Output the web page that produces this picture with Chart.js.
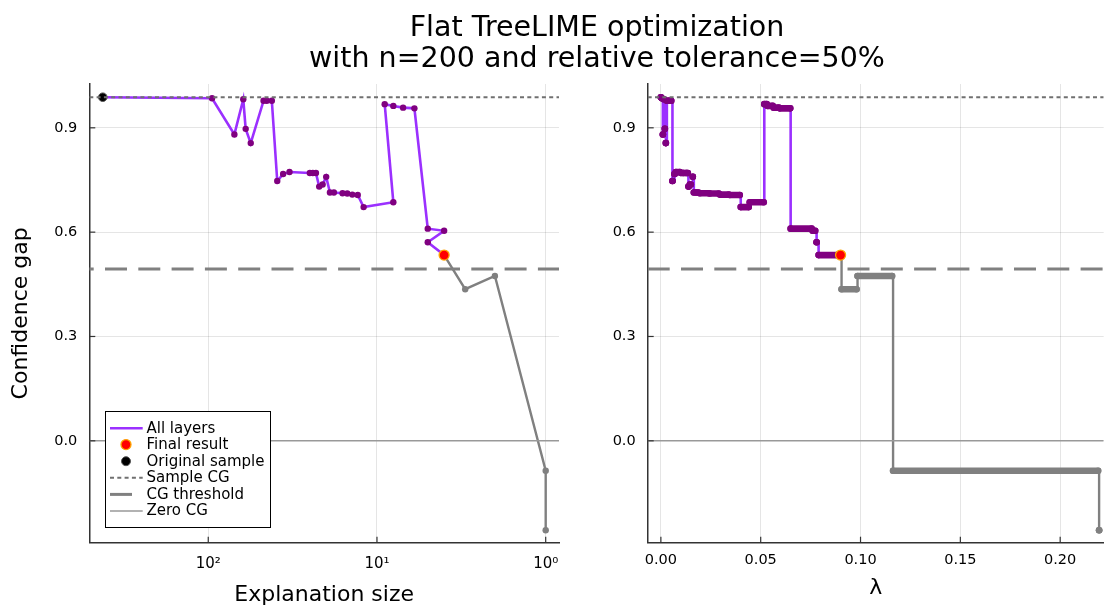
<!DOCTYPE html>
<html><head><meta charset="utf-8">
<script src="https://cdn.jsdelivr.net/npm/chart.js@4.4.1/dist/chart.umd.min.js"></script>
<style>
html,body{margin:0;padding:0;background:#fff;width:1110px;height:606px;overflow:hidden;font-family:"DejaVu Sans",sans-serif}
#title{position:absolute;left:97px;top:11px;width:1000px;text-align:center;font-size:28.5px;line-height:31px;color:#000;z-index:2}
#w1{position:absolute;left:0;top:0;width:580px;height:606px}
#w2{position:absolute;left:580px;top:0;width:530px;height:606px}
canvas{display:block}
</style></head><body>
<div id="w1"><canvas id="c1" width="580" height="606"></canvas></div>
<div id="w2"><canvas id="c2" width="530" height="606"></canvas></div>
<div id="title">Flat TreeLIME optimization<br>with n=200 and relative tolerance=50%</div>
<script>
// ---------- data ----------
const sizeAll = [422, 95, 70, 62, 60, 56, 47, 45, 42, 39, 36, 33, 25, 24, 23, 22, 21, 20, 19, 18, 16, 15, 14, 13, 12, 8, 9, 8, 7, 6, 5, 4, 5, 4];
const cgAll   = [0.988, 0.985, 0.881, 0.982, 0.897, 0.856, 0.978, 0.978, 0.978, 0.747, 0.767, 0.773, 0.770, 0.770, 0.770, 0.731, 0.737, 0.759, 0.714, 0.714, 0.712, 0.711, 0.708, 0.707, 0.672, 0.686, 0.968, 0.963, 0.958, 0.956, 0.610, 0.604, 0.571, 0.534];
const lamStartAll = [0, 0.0005, 0.001, 0.0015, 0.002, 0.0025, 0.003, 0.004, 0.005, 0.0058, 0.0068, 0.0075, 0.010, 0.0115, 0.013, 0.0138, 0.0145, 0.016, 0.0165, 0.018, 0.0195, 0.0245, 0.0295, 0.0345, 0.040, 0.0445, 0.0518, 0.0535, 0.0565, 0.0595, 0.065, 0.076, 0.078, 0.079];
const lamEndAll   = [0, 0.0005, 0.001, 0.0015, 0.002, 0.0025, 0.0035, 0.0045, 0.0052, 0.0058, 0.007, 0.0095, 0.011, 0.0125, 0.0135, 0.014, 0.015, 0.016, 0.0175, 0.0188, 0.024, 0.029, 0.034, 0.0395, 0.044, 0.0515, 0.053, 0.056, 0.059, 0.0648, 0.0755, 0.0773, 0.078, 0.090];

const sizeRest = [4, 3, 2, 1, 1];
const cgRest   = [0.534, 0.436, 0.474, -0.086, -0.257];
const lamStartRest = [0.090, 0.0905, 0.0985, 0.1163, 0.2195];
const lamEndRest   = [0.090, 0.098, 0.1158, 0.2190, 0.2195];

const finalSize = 4, finalLam = 0.090, finalCG = 0.534;
const origSize = 422, origCG = 0.988;

const sampleCG = 0.988;
const cgThreshold = 0.494;
const zeroCG = 0;

const yTicks = [0, 0.3, 0.6, 0.9];
const yTickLabels = ['0.0', '0.3', '0.6', '0.9'];
const xTicksLeft = [1, 10, 100];
const xTickLabelsLeft = ['10\u2070', '10\u00B9', '10\u00B2'];
const xTicksRight = [0, 0.05, 0.10, 0.15, 0.20];
const xTickLabelsRight = ['0.00', '0.05', '0.10', '0.15', '0.20'];

// ---------- styles ----------
const PURPLE_LINE = '#9b30ff', PURPLE_MK = '#800080', GRAY = '#808080';
Chart.defaults.font.family = '"DejaVu Sans", sans-serif';
Chart.defaults.color = '#000';

const pts = (xs, ys) => xs.map((x, i) => ({x, y: ys[i]}));
const stepPts = (s, e, ys) => { const o = []; ys.forEach((y, i) => { o.push({x: s[i], y}); o.push({x: e[i], y}); }); return o; };
const plateauPts = (s, e, ys) => { const o = []; ys.forEach((y, i) => { o.push({x: s[i], y}); o.push({x: e[i], y}); o.push({x: e[i], y: null}); }); return o; };

const refLines = (dashOffset) => ({
  id: 'refLines',
  afterDatasetsDraw(chart) {
    const {ctx, chartArea: a, scales: {y}} = chart;
    ctx.save();
    ctx.beginPath(); ctx.rect(a.left, a.top, a.right - a.left, a.bottom - a.top); ctx.clip();
    const draw = (v, color, w, dash, off) => {
      const py = y.getPixelForValue(v);
      ctx.strokeStyle = color; ctx.lineWidth = w; ctx.setLineDash(dash); ctx.lineDashOffset = off || 0;
      ctx.beginPath(); ctx.moveTo(a.left, py); ctx.lineTo(a.right, py); ctx.stroke();
    };
    draw(zeroCG, '#999999', 1.5, []);
    draw(sampleCG, '#707070', 2, [4, 3.3]);
    draw(cgThreshold, GRAY, 3, [22, 11.3], dashOffset);
    ctx.restore();
  }
});

const innerTicks = {
  id: 'innerTicks',
  afterDraw(chart) {
    const {ctx, chartArea: a, scales: {x, y}} = chart;
    ctx.save(); ctx.strokeStyle = '#333'; ctx.lineWidth = 1.2; ctx.setLineDash([]);
    x.ticks.forEach(t => { const px = x.getPixelForValue(t.value); ctx.beginPath(); ctx.moveTo(px, a.bottom); ctx.lineTo(px, a.bottom - 6); ctx.stroke(); });
    y.ticks.forEach(t => { const py = y.getPixelForValue(t.value); ctx.beginPath(); ctx.moveTo(a.left, py); ctx.lineTo(a.left + 6, py); ctx.stroke(); });
    ctx.restore();
  }
};

const legendBox = {
  id: 'legendBox',
  afterDraw(chart) {
    const ctx = chart.ctx;
    ctx.save();
    const L = 105.5, T = 411.5, R = 270.5, B = 527.5;
    ctx.fillStyle = '#fff'; ctx.fillRect(L, T, R - L, B - T);
    ctx.strokeStyle = '#000'; ctx.lineWidth = 1; ctx.setLineDash([]); ctx.strokeRect(L, T, R - L, B - T);
    const rows = [428.3, 444.6, 461.2, 477.8, 494.4, 511];
    const x0 = 110, x1 = 142.7, cx = 126;
    const line = (yy, color, w, dash) => { ctx.strokeStyle = color; ctx.lineWidth = w; ctx.setLineDash(dash); ctx.beginPath(); ctx.moveTo(x0, yy); ctx.lineTo(x1, yy); ctx.stroke(); ctx.setLineDash([]); };
    line(rows[0], PURPLE_LINE, 2.6, []);
    ctx.beginPath(); ctx.arc(cx, rows[1], 5, 0, Math.PI * 2); ctx.fillStyle = '#ff0000'; ctx.fill(); ctx.strokeStyle = '#ffa500'; ctx.lineWidth = 1.3; ctx.stroke();
    ctx.beginPath(); ctx.arc(cx, rows[2], 4.5, 0, Math.PI * 2); ctx.fillStyle = '#000'; ctx.fill(); ctx.strokeStyle = '#555'; ctx.lineWidth = 1; ctx.stroke();
    line(rows[3], '#707070', 2, [4, 3.3]);
    line(rows[4], GRAY, 3, [22, 20]);
    line(rows[5], '#999999', 1.5, []);
    const labels = ['All layers', 'Final result', 'Original sample', 'Sample CG', 'CG threshold', 'Zero CG'];
    ctx.fillStyle = '#000'; ctx.font = '15px "DejaVu Sans", sans-serif'; ctx.textBaseline = 'middle'; ctx.textAlign = 'left';
    labels.forEach((t, i) => ctx.fillText(t, 146.5, rows[i] + 0.5));
    ctx.restore();
  }
};

const yAxis = (width, withTitle) => ({
  type: 'linear', min: -0.293, max: 1.026,
  afterBuildTicks: s => { s.ticks = yTicks.map(v => ({value: v})); },
  ticks: {callback: (v, i) => yTickLabels[i], font: {size: 14.5}, color: '#000', padding: 12},
  grid: {color: 'rgba(0,0,0,0.1)', lineWidth: 1, drawTicks: false},
  border: {color: '#333', width: 1.5},
  title: {display: withTitle, text: 'Confidence gap', font: {size: 22}, color: '#000', padding: {top: 8.5, bottom: 0}},
  afterFit: s => { s.width = width; }
});

// ---------- left chart ----------
new Chart(document.getElementById('c1'), {
  type: 'line',
  data: {datasets: [
    {label: 'Original sample', data: [{x: origSize, y: origCG}], showLine: false, pointRadius: 4.3, pointBackgroundColor: '#000', pointBorderColor: '#555', pointBorderWidth: 1, order: 0},
    {label: 'Final result', data: [{x: finalSize, y: finalCG}], showLine: false, pointRadius: 5, pointBackgroundColor: '#ff0000', pointBorderColor: '#ffa500', pointBorderWidth: 1.3, order: 1},
    {label: 'All layers', data: pts(sizeAll, cgAll), borderColor: PURPLE_LINE, borderWidth: 2.6, pointRadius: 3.2, pointBackgroundColor: PURPLE_MK, pointBorderWidth: 0, order: 2},
    {label: 'rest', data: pts(sizeRest, cgRest), borderColor: GRAY, borderWidth: 2.4, pointRadius: 3.2, pointBackgroundColor: GRAY, pointBorderWidth: 0, order: 3}
  ]},
  options: {
    responsive: false, animation: false, events: [],
    layout: {padding: {top: 84, right: 21, left: 0, bottom: 0}},
    plugins: {legend: {display: false}, tooltip: {enabled: false}},
    scales: {
      x: {
        type: 'logarithmic', reverse: true, min: 0.834, max: 507,
        afterBuildTicks: s => { s.ticks = xTicksLeft.map(v => ({value: v})); },
        ticks: {callback: (v, i) => xTickLabelsLeft[i], font: {size: 15}, color: '#000', padding: 12, autoSkip: false, maxRotation: 0},
        grid: {color: 'rgba(0,0,0,0.1)', lineWidth: 1, drawTicks: false},
        border: {color: '#333', width: 1.5},
        title: {display: true, text: 'Explanation size', font: {size: 22, lineHeight: 1}, color: '#000', padding: {top: 0, bottom: 0}},
        afterFit: s => { s.height = 63.3; }
      },
      y: yAxis(89.3, true)
    }
  },
  plugins: [refLines(17.6), innerTicks, legendBox]
});

// ---------- right chart ----------
new Chart(document.getElementById('c2'), {
  type: 'line',
  data: {datasets: [
    {label: 'Final result', data: [{x: finalLam, y: finalCG}], showLine: false, pointRadius: 5, pointBackgroundColor: '#ff0000', pointBorderColor: '#ffa500', pointBorderWidth: 1.3, order: 0},
    {label: 'All layers plateaus', data: plateauPts(lamStartAll, lamEndAll, cgAll), borderColor: PURPLE_MK, borderWidth: 6.6, borderCapStyle: 'round', spanGaps: false, pointRadius: 3.3, pointBackgroundColor: PURPLE_MK, pointBorderWidth: 0, order: 1},
    {label: 'All layers', data: stepPts(lamStartAll, lamEndAll, cgAll), borderColor: PURPLE_LINE, borderWidth: 2.6, stepped: true, pointRadius: 0, order: 2},
    {label: 'rest plateaus', data: plateauPts(lamStartRest, lamEndRest, cgRest), borderColor: GRAY, borderWidth: 6.6, borderCapStyle: 'round', spanGaps: false, pointRadius: 3.3, pointBackgroundColor: GRAY, pointBorderWidth: 0, order: 3},
    {label: 'rest', data: stepPts(lamStartRest, lamEndRest, cgRest), borderColor: GRAY, borderWidth: 2.4, stepped: true, pointRadius: 0, order: 4}
  ]},
  options: {
    responsive: false, animation: false, events: [],
    layout: {padding: {top: 84, right: 2, left: 0, bottom: 0}},
    plugins: {legend: {display: false}, tooltip: {enabled: false}},
    scales: {
      x: {
        type: 'linear', min: -0.0066, max: 0.2218,
        afterBuildTicks: s => { s.ticks = xTicksRight.map(v => ({value: v})); },
        ticks: {callback: (v, i) => xTickLabelsRight[i], font: {size: 14.5}, color: '#000', padding: 9, autoSkip: false, maxRotation: 0},
        grid: {color: 'rgba(0,0,0,0.1)', lineWidth: 1, drawTicks: false},
        border: {color: '#333', width: 1.5},
        title: {display: true, text: 'λ', font: {size: 22, lineHeight: 1}, color: '#000', padding: {top: 0, bottom: 7}},
        afterFit: s => { s.height = 63.3; }
      },
      y: yAxis(67.7, false)
    }
  },
  plugins: [refLines(0), innerTicks]
});
</script>
</body></html>
